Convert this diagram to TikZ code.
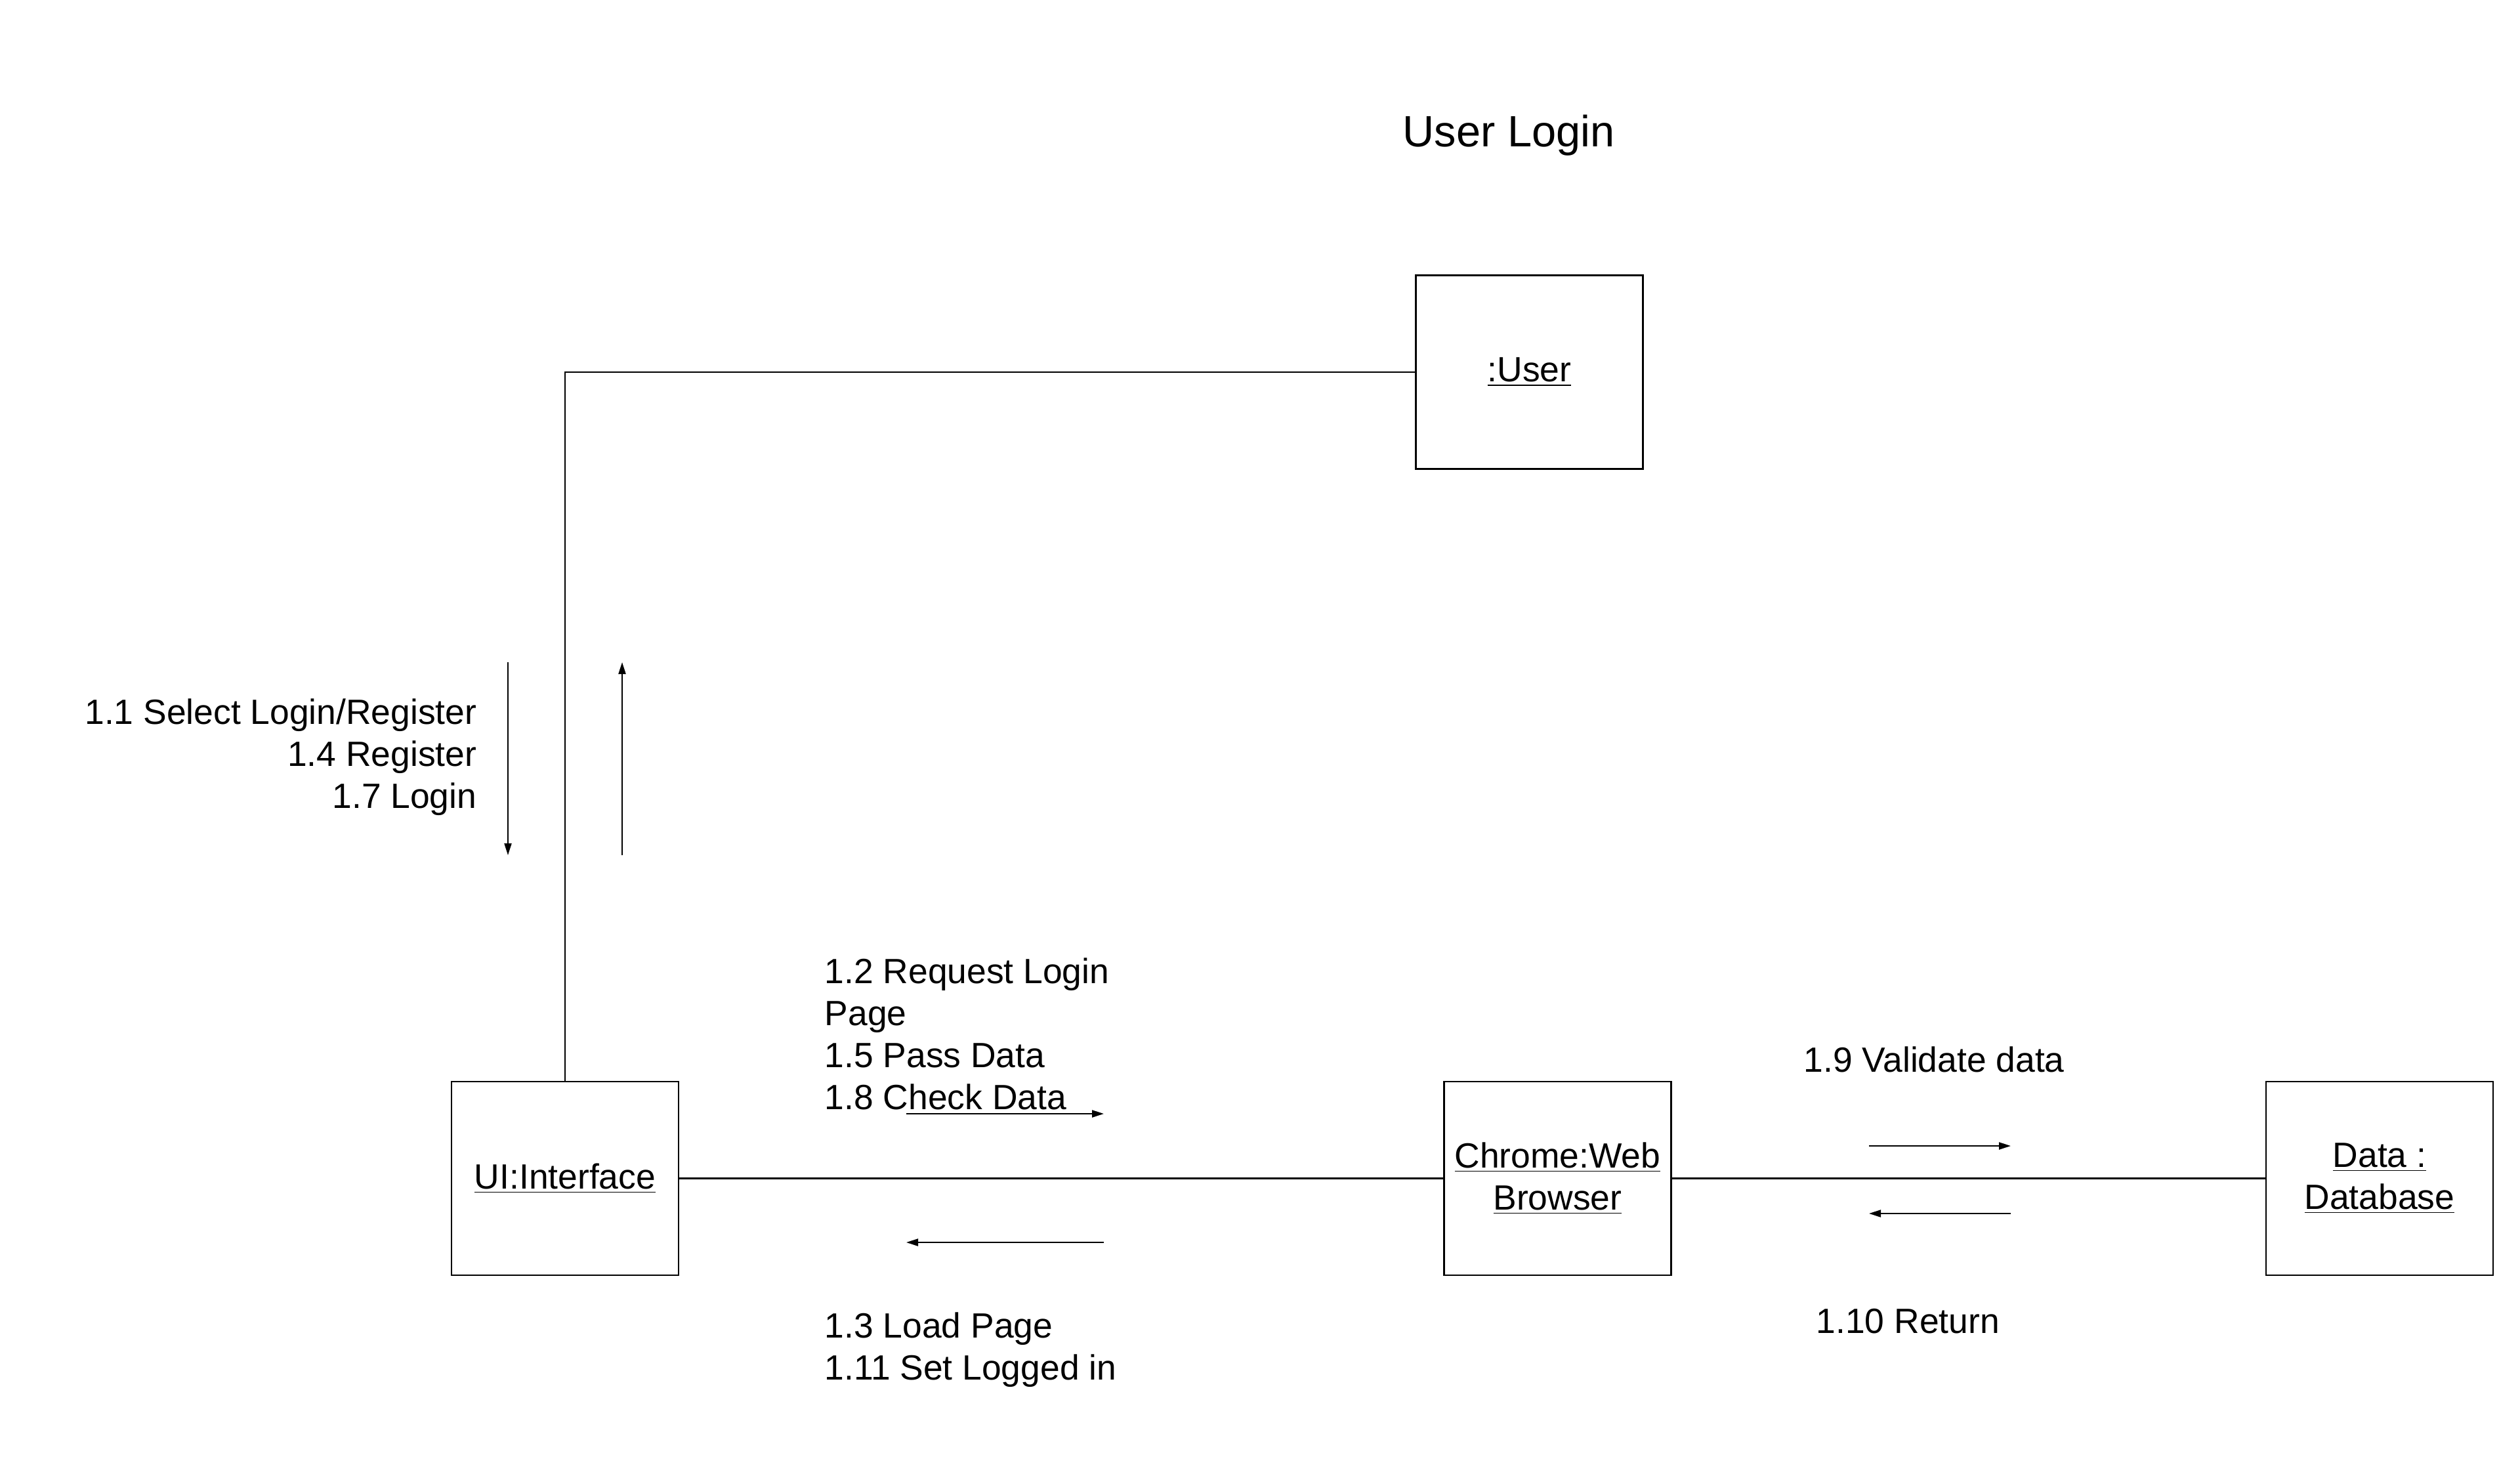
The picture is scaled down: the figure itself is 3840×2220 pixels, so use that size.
\documentclass[tikz,border=0pt]{standalone}
\usepackage{fontspec}
\setmainfont{Liberation Sans}
\usetikzlibrary{arrows.meta}

\tikzset{
  obj/.style={draw, line width=0.7pt, minimum width=3.46cm, minimum height=2.95cm,
    inner sep=0pt, align=center},
  msg/.style={-{Triangle[length=0.18cm, width=0.11cm]}, line width=0.6pt},
  lbl/.style={inner sep=0pt},
}
\newcommand{\ul}[1]{\underline{#1}}

\begin{document}
\begin{tikzpicture}[x=0.1mm, y=-0.1mm, font=\fontsize{15.2}{18.2}\selectfont]
\useasboundingbox (0,0) rectangle (3840,2220);
%% the title
\node[lbl, font=\fontsize{19}{23}\selectfont] (title) at (2299,206) {User Login};
%% the four objects
\node[obj] (user) at (2330.5,567) {\ul{:User}};
\node[obj] (ui) at (861,1795.5) {\ul{UI:Interface}};
\node[obj] (web) at (2373.5,1795.5) {\ul{Chrome:Web}\\\ul{Browser}};
\node[obj] (db) at (3626,1795.5) {\ul{Data :}\\\ul{Database}};
%% links
\draw[line width=0.7pt] (ui.north) |- (user.west);
\draw[line width=0.7pt] (ui.east) -- (web.west);
\draw[line width=0.7pt] (web.east) -- (db.west);
%% messages between UI and User
\coordinate (ua1) at (774,1009);
\coordinate (ua2) at (774,1303);
\coordinate (ub1) at (948,1303);
\coordinate (ub2) at (948,1009);
\draw[msg] (ua1) -- (ua2);
\draw[msg] (ub1) -- (ub2);
\node[lbl, anchor=east, align=right] (m1) at (727,1154)
  {1.1 Select Login/Register\\1.4 Register\\1.7 Login};
%% messages between UI and the browser
\coordinate (wa1) at (1381,1697);
\coordinate (wa2) at (1682,1697);
\coordinate (wb1) at (1682,1893);
\coordinate (wb2) at (1381,1893);
\draw[msg] (wa1) -- (wa2);
\draw[msg] (wb1) -- (wb2);
\node[lbl, anchor=west, align=left] (m2) at (1256,1575)
  {1.2 Request Login\\Page\\1.5 Pass Data\\1.8 Check Data};
\node[lbl, anchor=west, align=left] (m3) at (1256,2057)
  {1.3 Load Page\\1.11 Set Logged in};
%% messages between the browser and the database
\coordinate (da1) at (2848,1746);
\coordinate (da2) at (3064,1746);
\coordinate (db1) at (3064,1849);
\coordinate (db2) at (2848,1849);
\draw[msg] (da1) -- (da2);
\draw[msg] (db1) -- (db2);
\node[lbl, anchor=west] (m4) at (2748,1614) {1.9 Validate data};
\node[lbl, anchor=west] (m5) at (2767,2013) {1.10 Return};
\end{tikzpicture}
\end{document}
